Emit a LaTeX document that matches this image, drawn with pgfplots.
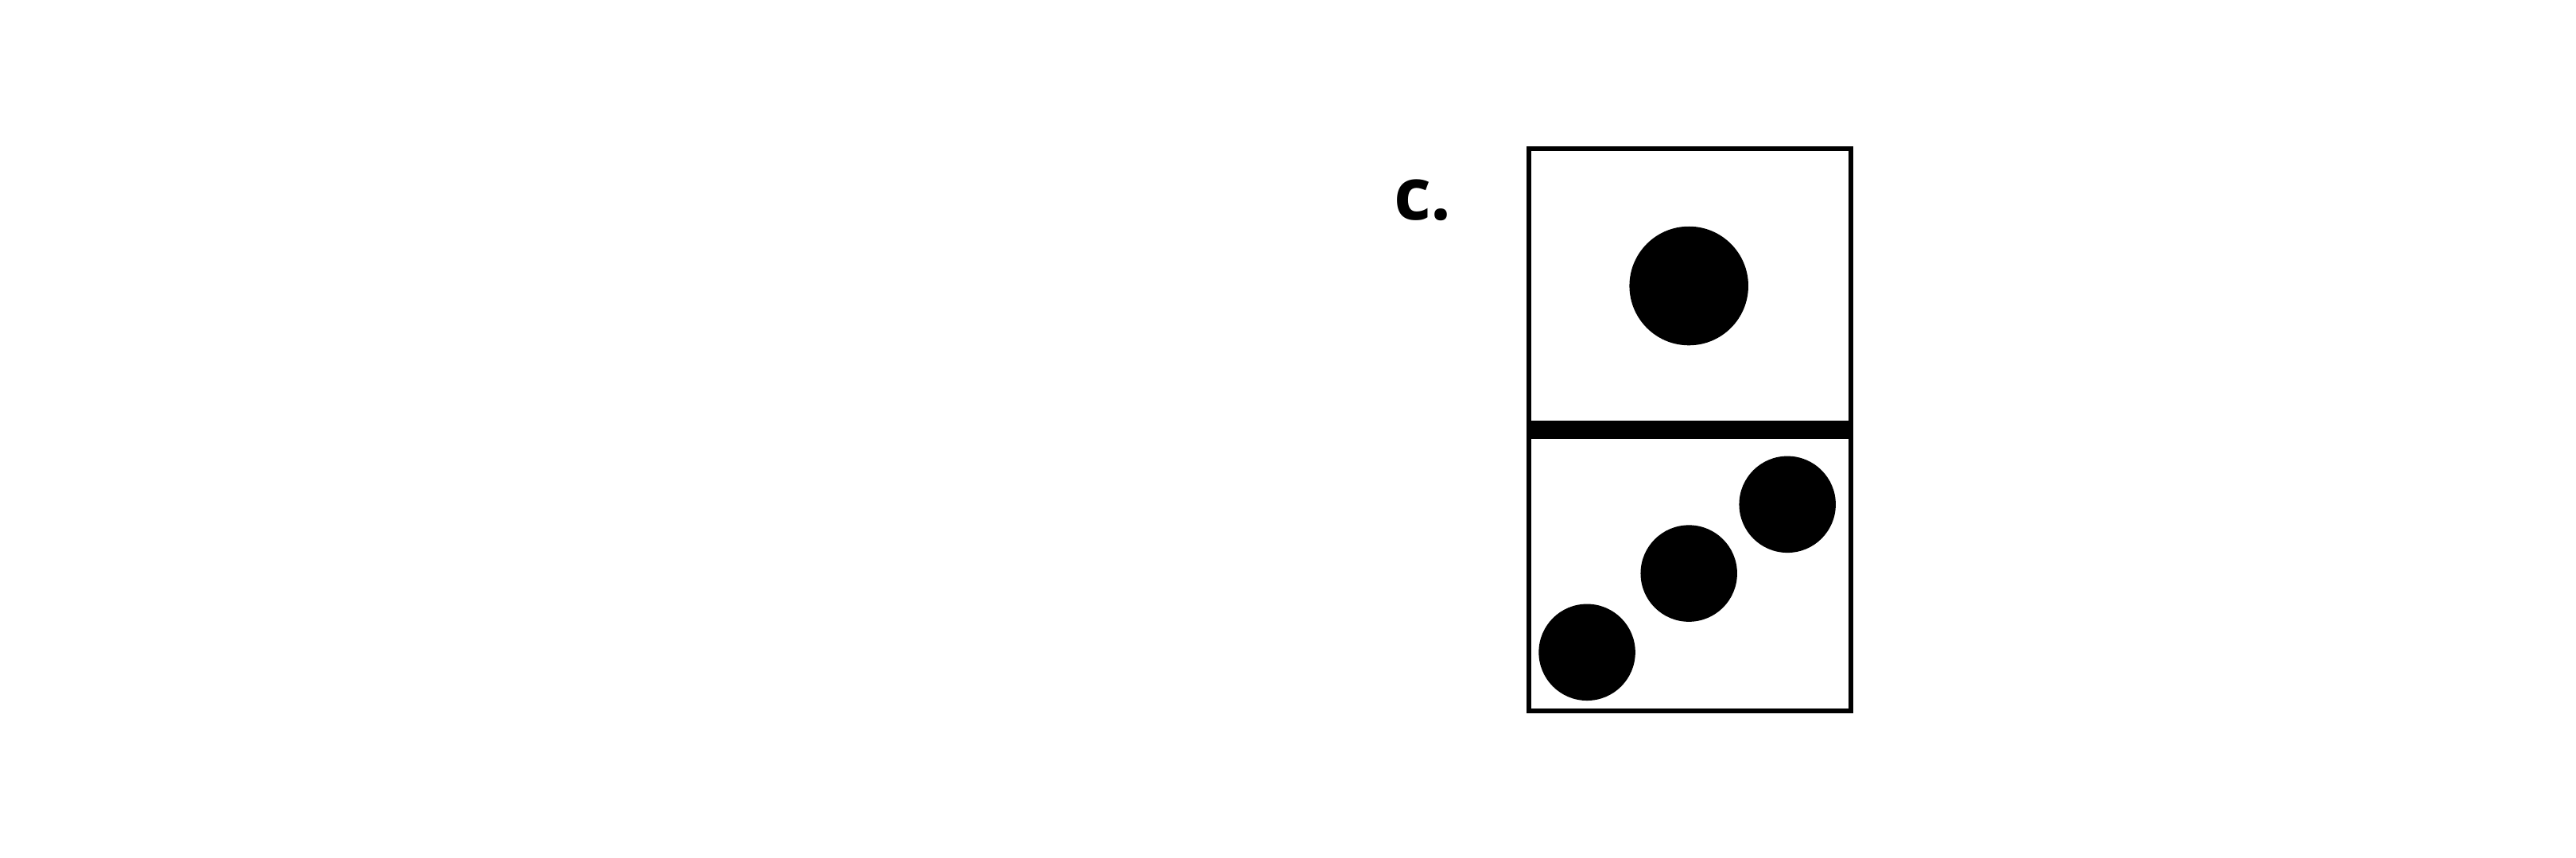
\documentclass[border=0pt]{standalone}
\usepackage{pgfplots}
\pgfplotsset{compat=1.18}
\usepackage{fontspec}
\setmainfont{Open Sans}
\begin{document}
\begin{tikzpicture}
\begin{axis}[width=30cm,height=9.987cm,scale only axis,axis lines=none,
  xmin=0,xmax=1568,ymin=0,ymax=522,y dir=reverse,clip=false]
\path (axis cs:0,0) rectangle (axis cs:1568,522);
\draw[line width=1.6pt] (axis cs:930.5,90.5) rectangle (axis cs:1126.5,432.5);
\fill (axis cs:930.5,256) rectangle (axis cs:1126.5,267);
\addplot[only marks,mark=*,mark size=19.5pt,black] coordinates {(1028,174)};
\addplot[only marks,mark=*,mark size=15.8pt,black] coordinates {(966,397) (1028,349) (1088,307)};
\node[font=\fontsize{24}{28}\selectfont\bfseries] at (axis cs:866,122) {c.};
\end{axis}
\end{tikzpicture}
\end{document}
